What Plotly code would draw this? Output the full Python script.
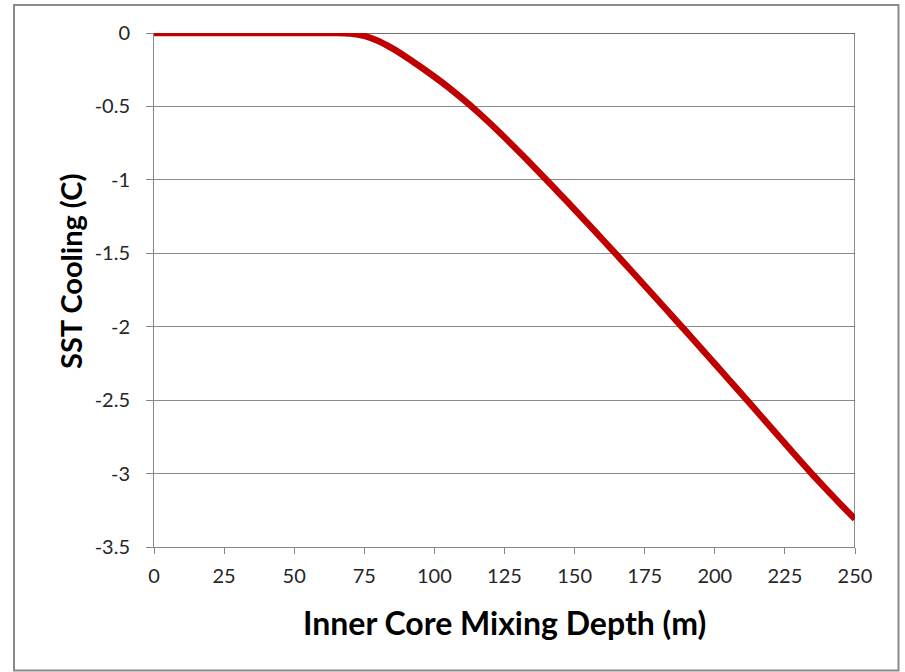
import plotly.graph_objects as go

# Mixing depth (m) and resulting SST change (deg C)
depth_m = [0, 5, 10, 15, 20, 25, 30, 35, 40, 45, 50, 55, 60, 65, 70, 75, 80, 85, 90,
           95, 100, 105, 110, 115, 120, 125, 130, 135, 140, 145, 150, 155, 160, 165,
           170, 175, 180, 185, 190, 195, 200, 205, 210, 215, 220, 225, 230, 235, 240,
           245, 250]
sst_cooling = [0, 0, 0, 0, 0, 0, 0, 0, 0, 0, 0, 0, 0, 0, -0.004, -0.02, -0.055, -0.105,
               -0.165, -0.23, -0.298, -0.37, -0.448, -0.53, -0.618, -0.71, -0.805,
               -0.902, -1.001, -1.101, -1.202, -1.304, -1.407, -1.51, -1.615, -1.72,
               -1.826, -1.932, -2.038, -2.145, -2.252, -2.36, -2.468, -2.577, -2.686,
               -2.795, -2.903, -3.01, -3.112, -3.212, -3.31]

x_ticks = [0, 25, 50, 75, 100, 125, 150, 175, 200, 225, 250]
y_ticks = [0, -0.5, -1, -1.5, -2, -2.5, -3, -3.5]
y_tick_text = ["0", "-0.5", "-1", "-1.5", "-2", "-2.5", "-3", "-3.5"]

W, H = 905, 672
L, R, T, B = 154, 50, 33, 125
pw, ph = W - L - R, H - T - B

def px_x(p):
    return (p - L) / pw

def px_y(p):
    return 1 - (p - T) / ph

fig = go.Figure()
fig.add_trace(go.Scatter(
    x=depth_m, y=sst_cooling, mode="lines",
    line=dict(color="#C00000", width=6.5, shape="spline", smoothing=0.5),
    showlegend=False, hoverinfo="skip",
))

tick_font = dict(family="Lato, Carlito, sans-serif", size=20, color="#262626")
x_title_font = dict(family="Lato, Carlito, sans-serif", size=32, color="#000000")
y_title_font = dict(family="Lato, Carlito, sans-serif", size=29, color="#000000")

fig.update_layout(
    width=W, height=H,
    margin=dict(l=L, r=R, t=T, b=B),
    paper_bgcolor="white", plot_bgcolor="white",
    xaxis=dict(
        range=[0, 250], tickvals=x_ticks, ticktext=[str(v) for v in x_ticks],
        showgrid=False, zeroline=False,
        showline=True, linecolor="#868686", linewidth=1,
        ticks="outside", ticklen=6, tickcolor="#868686", tickwidth=1,
        tickfont=tick_font, ticklabelstandoff=5,
    ),
    yaxis=dict(
        range=[-3.5, 0], tickvals=y_ticks, ticktext=y_tick_text,
        showgrid=True, gridcolor="#8c8c8c", gridwidth=1, zeroline=False,
        showline=True, linecolor="#868686", linewidth=1,
        ticks="outside", ticklen=7, tickcolor="#868686", tickwidth=1,
        tickfont=tick_font, ticklabelstandoff=12,
    ),
    shapes=[
        # plot-area border along the top and right edges
        dict(type="line", xref="x", yref="y", x0=0, x1=250, y0=0, y1=0,
             line=dict(color="#404040", width=1.5), layer="below"),
        dict(type="line", xref="x", yref="y", x0=250, x1=250, y0=-3.5, y1=0,
             line=dict(color="#404040", width=1.2)),
        # chart-area frame
        dict(type="rect", xref="paper", yref="paper",
             x0=px_x(14), x1=px_x(898.5), y0=px_y(670.5), y1=px_y(5),
             line=dict(color="#8a8a8a", width=2), fillcolor="rgba(0,0,0,0)"),
    ],
    annotations=[
        dict(text="<b>Inner Core Mixing Depth (m)</b>", xref="paper", yref="paper",
             x=px_x(505), y=px_y(622), showarrow=False, font=x_title_font,
             xanchor="center", yanchor="middle"),
        dict(text="<b>SST Cooling (C)</b>", xref="paper", yref="paper",
             x=px_x(70), y=px_y(272), showarrow=False, font=y_title_font,
             textangle=-90, xanchor="center", yanchor="middle"),
    ],
)

fig.write_html("out.html")
